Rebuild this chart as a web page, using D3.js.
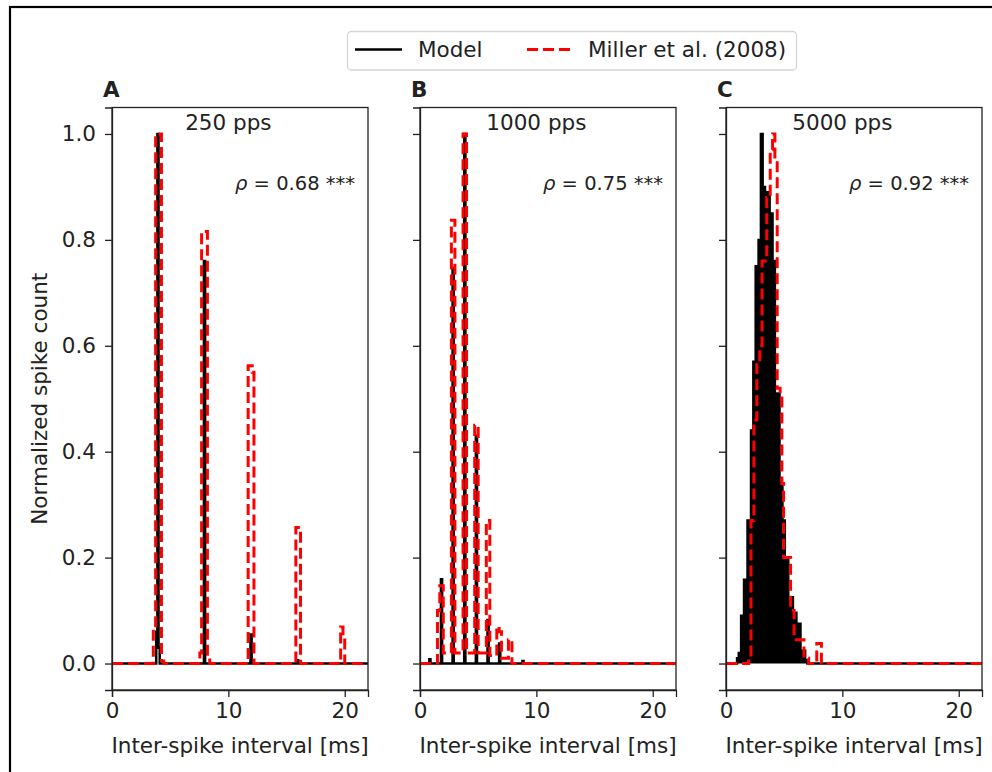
<!doctype html>
<html lang="en">
<head>
  <meta charset="utf-8">
  <title>ISI histograms</title>
  <style>
  body { margin: 0; background: #fff; }
  text { font-family: "DejaVu Sans", sans-serif; fill: #222; }
  .domain, .tick line { stroke: #222; stroke-width: 1.3px; }
  </style>
</head>
<body>
<div id="chart"></div>
<script src="https://cdn.jsdelivr.net/npm/d3@7/dist/d3.min.js"></script>
<script>

//------------------data: [bin left edge (ms), normalized count], drawn as steps
var panelLetters = ["A", "B", "C"];
var rateLabels = ["250 pps", "1000 pps", "5000 pps"];
var rhoValues = ["0.68 ***", "0.75 ***", "0.92 ***"];
var xTicks = [0, 10, 20];
var yTicks = [0.0, 0.2, 0.4, 0.6, 0.8, 1.0];

var modelA = [[0,0],[3.8,0.06],[3.9,1.0],[4.0,0.03],[4.1,0],[7.9,0.76],[8.0,0],
  [11.9,0.055],[12.0,0],[15.9,0.006],[16.0,0],[22,0]];
var millerA = [[0,0],[3.55,0.067],[3.75,1.0],[4.25,0.005],[4.45,0],[7.55,0.02],[7.7,0.816],
  [8.2,0.01],[8.4,0],[11.7,0.5625],[12.05,0.55],[12.2,0],[15.8,0.257],[16.2,0],
  [19.65,0.069],[19.85,0.05],[20.0,0],[22,0]];

var modelB = [[0,0],[0.8,0.008],[0.9,0],[1.8,0.159],[1.9,0],[2.8,0.747],[2.9,0],
  [3.8,1.0],[3.9,0],[4.8,0.43],[4.9,0],[5.8,0.082],[5.9,0],[6.8,0.038],[6.9,0],
  [8.8,0.005],[8.9,0],[22,0]];
var millerB = [[0,0],[1.5,0.1],[1.7,0.147],[2.0,0.02],[2.7,0.837],[3.0,0.02],[3.7,1.0],
  [4.0,0.02],[4.7,0.45],[5.0,0.02],[5.7,0.27],[6.0,0.015],[6.6,0.07],[6.8,0.06],
  [7.0,0.01],[7.6,0.045],[7.9,0],[22,0]];

var modelC = [[0,0],[0.95,0.01],[1.1,0.02],[1.3,0.09],[1.55,0.158],[1.85,0.27],[2.15,0.44],
  [2.35,0.57],[2.55,0.75],[2.8,0.80],[3.0,1.0],[3.15,0.90],[3.35,0.88],[3.55,0.89],
  [3.75,0.85],[4.0,0.76],[4.2,0.49],[4.4,0.51],[4.6,0.34],[4.85,0.27],[5.05,0.20],
  [5.35,0.125],[5.75,0.096],[6.05,0.075],[6.4,0.024],[6.8,0.006],[7.0,0],[22,0]];
var millerC = [[0,0],[1.95,0.005],[2.15,0.27],[2.4,0.46],[2.65,0.57],[2.9,0.60],[3.1,0.76],
  [3.5,0.88],[3.8,0.97],[4.0,1.0],[4.2,0.95],[4.4,0.52],[4.65,0.51],[4.8,0.34],
  [4.95,0.20],[5.55,0.10],[5.85,0.045],[6.7,0.01],[7.1,0],[7.8,0.038],[8.2,0],[22,0]];

var modelSeries = [modelA, modelB, modelC];
var millerSeries = [millerA, millerB, millerC];

//------------------svg
var width = 992, height = 772;
var fs = 21.5;
var svg = d3.select("#chart").append("svg")
    .attr("width", width).attr("height", height);

// figure frame (runs off the right/bottom edge)
svg.append("rect")
    .attr("x", 10).attr("y", 7)
    .attr("width", 1000).attr("height", 800)
    .attr("fill", "none").attr("stroke", "#000").attr("stroke-width", 2.2);

var panelLeft = [112, 420, 726];
var panelW = 256;
var plotTop = 107.5, plotBottom = 690;

var y = d3.scaleLinear().domain([-0.05, 1.05]).range([plotBottom, plotTop]);

panelLetters.forEach(function(letter, i) {
  var x = d3.scaleLinear().domain([0, 22]).range([panelLeft[i], panelLeft[i] + panelW]);
  var g = svg.append("g");

  g.append("clipPath").attr("id", "clip" + i)
    .append("rect")
    .attr("x", panelLeft[i]).attr("y", plotTop)
    .attr("width", panelW).attr("height", plotBottom - plotTop);

  var line = d3.line().curve(d3.curveStepAfter)
      .x(function(d) { return x(d[0]); })
      .y(function(d) { return y(d[1]); });
  var area = d3.area().curve(d3.curveStepAfter)
      .x(function(d) { return x(d[0]); })
      .y0(y(0))
      .y1(function(d) { return y(d[1]); });

  var plot = g.append("g").attr("clip-path", "url(#clip" + i + ")");

  // 5000 pps model histogram is so dense it reads as a solid shape
  if (i == 2) {
    plot.append("path").datum(modelSeries[i])
      .attr("d", area).attr("fill", "#000");
  }
  plot.append("path").datum(modelSeries[i])
    .attr("d", line)
    .attr("fill", "none").attr("stroke", "#000")
    .attr("stroke-width", 2.5).attr("stroke-linejoin", "miter");

  plot.append("path").datum(millerSeries[i])
    .attr("d", line)
    .attr("fill", "none").attr("stroke", "#ff0000")
    .attr("stroke-width", 3).attr("stroke-dasharray", "11,5");

  // axes
  g.append("g").attr("transform", "translate(0," + plotBottom + ")")
    .call(d3.axisBottom(x).tickValues(xTicks).tickSize(7).tickPadding(6).tickFormat(d3.format("d")))
    .call(function(a) { a.selectAll("text").attr("font-size", fs).attr("font-family", "DejaVu Sans").attr("fill", "#222"); });

  var yAxis = g.append("g").attr("transform", "translate(" + panelLeft[i] + ",0)")
    .call(d3.axisLeft(y).tickValues(yTicks).tickSize(7).tickPadding(9).tickFormat(d3.format(".1f")));
  yAxis.selectAll("text").attr("font-size", fs).attr("font-family", "DejaVu Sans").attr("fill", "#222");
  if (i > 0) yAxis.selectAll("text").remove();

  // full frame
  g.append("rect")
    .attr("x", panelLeft[i]).attr("y", plotTop)
    .attr("width", panelW).attr("height", plotBottom - plotTop)
    .attr("fill", "none").attr("stroke", "#222").attr("stroke-width", 1.3);

  g.append("text")
    .attr("x", panelLeft[i] - 9).attr("y", 97)
    .attr("font-size", fs).attr("font-weight", "bold")
    .text(letter);

  g.append("text")
    .attr("x", x(10)).attr("y", 130)
    .attr("text-anchor", "middle").attr("font-size", fs)
    .text(rateLabels[i]);

  var rho = g.append("text")
    .attr("x", panelLeft[i] + panelW - 13).attr("y", 190)
    .attr("text-anchor", "end").attr("font-size", 19.5);
  rho.append("tspan").attr("font-style", "italic").text("\u03c1");
  rho.append("tspan").text(" = " + rhoValues[i]);

  g.append("text")
    .attr("x", panelLeft[i] + panelW / 2).attr("y", 753)
    .attr("text-anchor", "middle").attr("font-size", fs)
    .text("Inter-spike interval [ms]");
});

svg.append("text")
  .attr("transform", "translate(47," + ((plotTop + plotBottom) / 2) + ") rotate(-90)")
  .attr("text-anchor", "middle").attr("font-size", fs)
  .text("Normalized spike count");

//------------------legend
var legend = svg.append("g");
legend.append("rect")
  .attr("x", 347.5).attr("y", 31.5).attr("width", 449).attr("height", 38.5)
  .attr("rx", 4).attr("fill", "#fff").attr("stroke", "#d5d5d5").attr("stroke-width", 1.3);
legend.append("line")
  .attr("x1", 355).attr("x2", 402).attr("y1", 49.5).attr("y2", 49.5)
  .attr("stroke", "#000").attr("stroke-width", 2.5);
legend.append("text").attr("x", 418).attr("y", 57).attr("font-size", fs).text("Model");
legend.append("line")
  .attr("x1", 527).attr("x2", 573).attr("y1", 49.5).attr("y2", 49.5)
  .attr("stroke", "#ff0000").attr("stroke-width", 3).attr("stroke-dasharray", "11,5");
legend.append("text").attr("x", 588).attr("y", 57).attr("font-size", fs).text("Miller et al. (2008)");

</script>
</body>
</html>
